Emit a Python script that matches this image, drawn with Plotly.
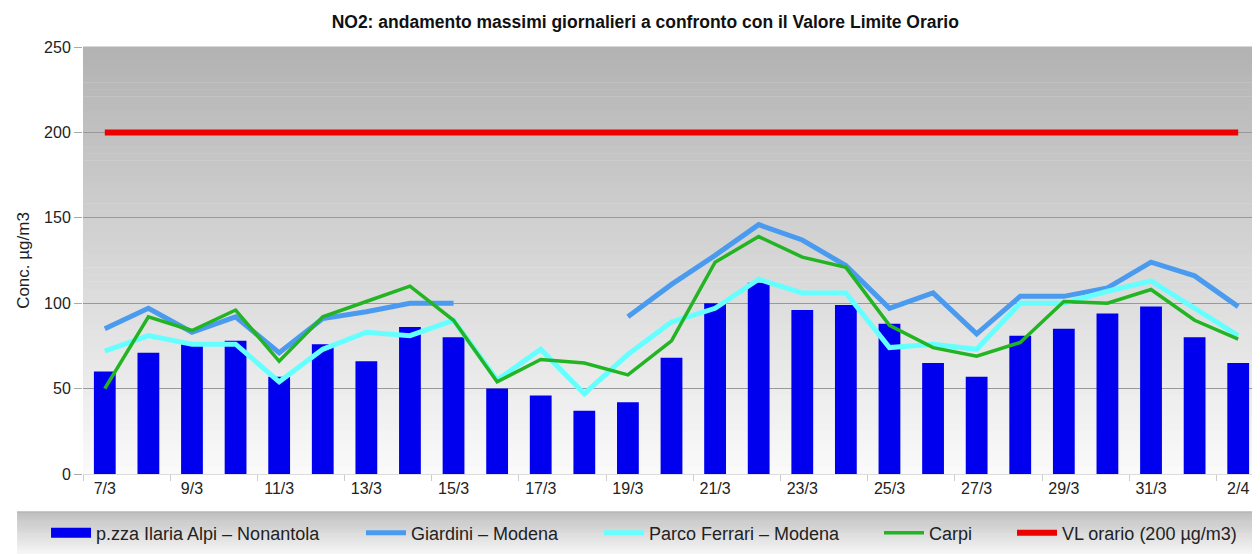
import plotly.graph_objects as go

# daily maxima of NO2, 7 March - 2 April
dates = ["7/3", "8/3", "9/3", "10/3", "11/3", "12/3", "13/3", "14/3", "15/3", "16/3",
         "17/3", "18/3", "19/3", "20/3", "21/3", "22/3", "23/3", "24/3", "25/3", "26/3",
         "27/3", "28/3", "29/3", "30/3", "31/3", "1/4", "2/4"]
nonantola = [60, 71, 76, 78, 57, 76, 66, 86, 80, 50, 46, 37, 42, 68, 100, 112, 96, 99,
             88, 65, 57, 81, 85, 94, 98, 80, 65]
giardini = [85, 97, 83, 92, 71, 91, 95, 100, 100, None, None, None, 92, 111, 128, 146,
            137, 122, 97, 106, 82, 104, 104, 109, 124, 116, 98]
parco_ferrari = [72, 81, 76, 76, 54, 73, 83, 81, 90, 55, 73, 47, 70, 89, 97, 114, 106,
                 106, 74, 76, 73, 100, 100, 107, 113, 97, 81]
carpi = [50, 92, 84, 96, 66, 92, 101, 110, 90, 54, 67, 65, 58, 78, 124, 139, 127, 121,
         87, 74, 69, 77, 101, 100, 108, 90, 79]
vl_orario = [200] * len(dates)

y_ticks = [0, 50, 100, 150, 200, 250]

font = "Liberation Sans, Arial, sans-serif"
bar_color = "#0000ee"

fig = go.Figure()
fig.add_trace(go.Bar(x=dates, y=nonantola, name="p.zza Ilaria Alpi – Nonantola",
                     marker_color=bar_color, marker_line_width=0,
                     legendgroup="bar", showlegend=False))
# wide swatch for the bar series in the legend
fig.add_trace(go.Scatter(x=[None], y=[None], name="p.zza Ilaria Alpi – Nonantola",
                         mode="lines", line=dict(color=bar_color, width=10),
                         legendgroup="bar", legend="legend"))
fig.add_trace(go.Scatter(x=dates, y=giardini, name="Giardini – Modena", mode="lines",
                         line=dict(color="#4a9bef", width=5), legend="legend2"))
fig.add_trace(go.Scatter(x=dates, y=parco_ferrari, name="Parco Ferrari – Modena", mode="lines",
                         line=dict(color="#66ffff", width=5), legend="legend3"))
fig.add_trace(go.Scatter(x=dates, y=carpi, name="Carpi", mode="lines",
                         line=dict(color="#22b422", width=3.5), legend="legend4"))
fig.add_trace(go.Scatter(x=dates, y=vl_orario, name="VL orario (200 µg/m3)", mode="lines",
                         line=dict(color="#ee0000", width=6), legend="legend5"))

# vertical gray gradient behind the plot area, drawn as thin bands
shapes = []
n = 60
for i in range(n):
    t = i / n
    c = int(250 - 72 * t)
    shapes.append(dict(type="rect", xref="paper", yref="paper", x0=0, x1=1,
                       y0=t, y1=(i + 1) / n + 0.001, line_width=0,
                       fillcolor=f"rgb({c},{c},{c})", layer="below"))
# legend band under the chart (darker at the top)
m = 20
band_bottom, band_top = -0.19, -0.089
for i in range(m):
    t = i / m
    c = int(247 - 57 * t)
    y0 = band_bottom + (band_top - band_bottom) * t
    shapes.append(dict(type="rect", xref="paper", yref="paper", x0=-0.056, x1=1.01,
                       y0=y0, y1=y0 + (band_top - band_bottom) / m + 0.001, line_width=0,
                       fillcolor=f"rgb({c},{c},{c})", layer="below"))
shapes.append(dict(type="line", xref="paper", yref="paper", x0=-0.056, x1=1.01,
                   y0=band_top, y1=band_top, line=dict(color="#b0b0b0", width=1)))

# one legend per entry so each sits where it does in the original
legend_x = [-0.0314, 0.2362, 0.4384, 0.6763, 0.7893]
legend_style = dict(orientation="h", xanchor="left", y=-0.138, yanchor="middle",
                    bgcolor="rgba(0,0,0,0)", font=dict(family=font, size=18, color="#222"),
                    itemwidth=40)
legends = {}
for i, lx in enumerate(legend_x):
    key = "legend" if i == 0 else f"legend{i + 1}"
    legends[key] = dict(legend_style, x=lx)

fig.update_layout(
    width=1252, height=546,
    margin=dict(l=75, r=0, t=39, b=80),
    paper_bgcolor="white",
    plot_bgcolor="rgba(0,0,0,0)",
    title=dict(text="<b>NO2: andamento massimi giornalieri a confronto con il Valore Limite Orario</b>",
               x=0.509, xanchor="center", y=0.974, yanchor="middle",
               font=dict(family=font, size=17.5, color="#111")),
    font=dict(family=font, size=16, color="#222"),
    bargap=0.5,
    shapes=shapes,
    showlegend=True,
    **legends,
)
fig.update_yaxes(range=[0, 250], tickvals=y_ticks, showgrid=True, gridcolor="#999999",
                 gridwidth=1, ticks="outside", ticklen=8, tickcolor="#aaaaaa",
                 zeroline=False, showline=False, automargin=False,
                 title=dict(text="Conc. µg/m3", font=dict(size=17), standoff=10))
fig.update_xaxes(type="category", tickvals=dates[::2], tickson="boundaries",
                 ticks="outside", ticklen=6, tickcolor="#cccccc", showgrid=False,
                 showline=True, linecolor="#dddddd", tickfont=dict(size=16),
                 automargin=False)

fig.write_html("out.html")
